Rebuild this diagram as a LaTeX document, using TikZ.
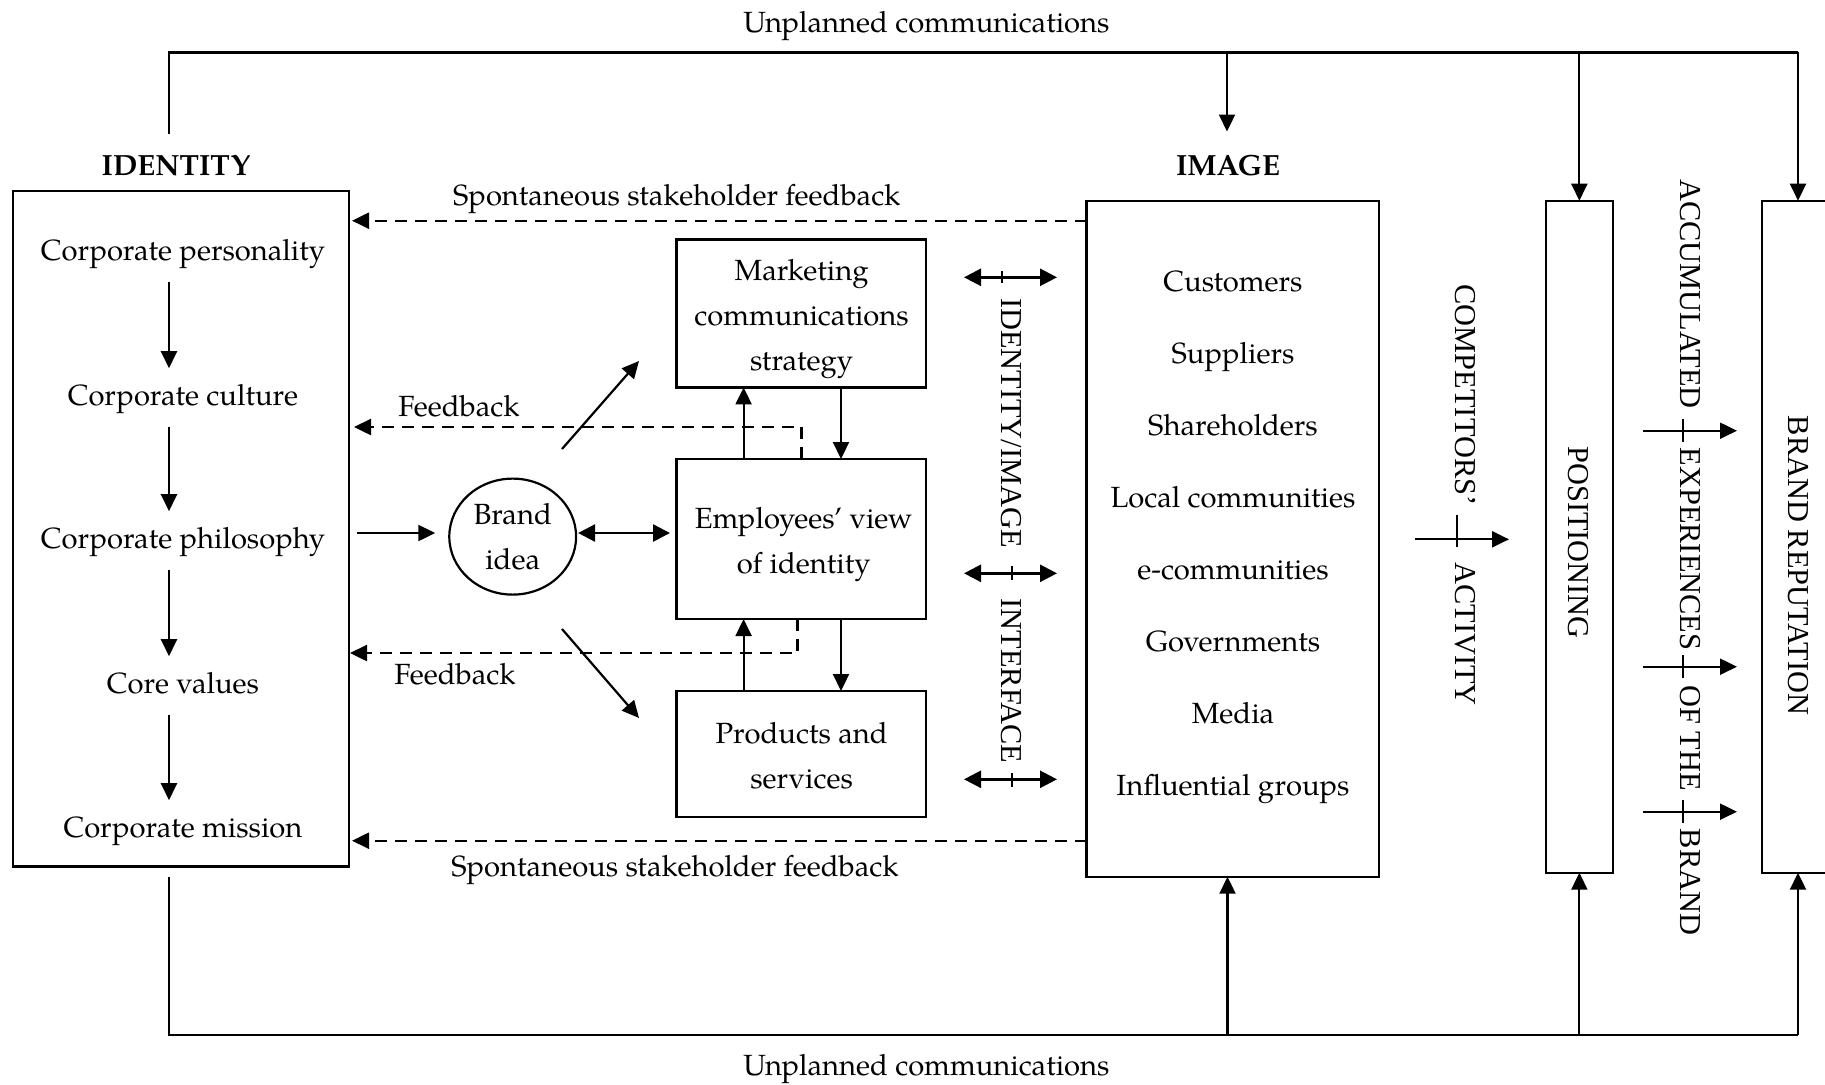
\documentclass[tikz,border=0pt]{standalone}
\usepackage{fontspec}
\setmainfont{texgyrepagella}[Extension=.otf, UprightFont=*-regular, BoldFont=*-bold, ItalicFont=*-italic, BoldItalicFont=*-bolditalic]
\newfontfamily\tms{Liberation Serif}
\usetikzlibrary{arrows.meta, shapes.geometric}
\begin{document}
\begin{tikzpicture}[x=0.5pt,y=-0.5pt,
  ln/.style={line width=1.1pt},
  arr/.style={line width=1.1pt,-{Triangle[length=8.5pt,width=8pt]}},
  dblarr/.style={line width=1.3pt,{Triangle[length=8.5pt,width=8.5pt]}-{Triangle[length=8.5pt,width=8.5pt]}},
  dsh/.style={line width=1.2pt,dash pattern=on 6pt off 4pt,-{Triangle[length=8.5pt,width=8pt]}},
  box/.style={draw,line width=1.1pt,inner sep=0pt,outer sep=0pt},
  txt/.style={font=\fontsize{14.6}{22.5}\selectfont,inner sep=0pt,align=center},
  btxt/.style={txt,anchor=base},
  itm/.style={btxt,text height=10.7pt,text depth=3.9pt},
  vtxt/.style={font=\tms\fontsize{15.2}{18}\selectfont,inner sep=0pt,rotate=-90},
  tick/.style={line width=1.1pt}
  ]
\useasboundingbox (0,0) rectangle (1825,1084);
\clip (0,0) rectangle (1825,1084);

% ---------- boxes ----------
\node[box,minimum width=168.1pt,minimum height=337.9pt] (idbox) at (180.9,528.6) {};
\node[box,minimum width=124.75pt,minimum height=74pt] (mkt) at (801.25,313.4) {};
\node[box,minimum width=124.75pt,minimum height=80pt] (emp) at (801.25,539) {};
\node[box,minimum width=124.75pt,minimum height=63pt] (prod) at (801.25,754) {};
\node[box,minimum width=146.25pt,minimum height=338pt] (img) at (1232.75,538.7) {};
\node[box,minimum width=33.65pt,minimum height=336pt] (pos) at (1579.35,536.7) {};
\node[box,minimum width=36.3pt,minimum height=336pt] (rep) at (1798,536.7) {};
\node[box,ellipse,minimum width=63.4pt,minimum height=58pt,txt] (bidea) at (512.7,536.6) {Brand\\idea};

% ---------- texts ----------
\node[btxt] (unpT) at (926.5,32) {Unplanned communications};
\node[btxt] (unpB) at (926.5,1075) {Unplanned communications};
\node[btxt,font=\fontsize{14.6}{22.5}\selectfont\bfseries] (idlab) at (176,175) {IDENTITY};
\node[btxt,font=\fontsize{14.6}{22.5}\selectfont\bfseries] (imlab) at (1228,175) {IMAGE};
\node[btxt] (spT) at (676.8,205) {Spontaneous stakeholder feedback};
\node[btxt] (spB) at (675,876) {Spontaneous stakeholder feedback};
\node[btxt] (fbT) at (459,416.4) {Feedback};
\node[btxt] (fbB) at (455,684) {Feedback};

\node[itm] (c1) at (183,260) {Corporate personality};
\node[itm] (c2) at (183,405) {Corporate culture};
\node[itm] (c3) at (183,548) {Corporate philosophy};
\node[itm] (c4) at (183,693) {Core values};
\node[itm] (c5) at (183,837) {Corporate mission};

\node[txt] (mktT) at (801.6,319) {Marketing\\communications\\strategy};
\node[txt] (empT) at (803.7,544.2) {Employees’ view\\of identity};
\node[txt] (prodT) at (801.6,755.7) {Products and\\services};

\node[btxt] (s1) at (1233,291.7) {Customers};
\node[btxt] (s2) at (1233,363.6) {Suppliers};
\node[btxt] (s3) at (1233,435.5) {Shareholders};
\node[btxt] (s4) at (1233,507.4) {Local communities};
\node[btxt] (s5) at (1233,579.3) {e-communities};
\node[btxt] (s6) at (1233,651.2) {Governments};
\node[btxt] (s7) at (1233,723.1) {Media};
\node[btxt] (s8) at (1233,795.0) {Influential groups};

\node[vtxt] (vi1) at (1011,423) {IDENTITY/IMAGE};
\node[vtxt] (vi2) at (1011,681) {INTERFACE};
\node[vtxt] (vc1) at (1465,395) {COMPETITORS’};
\node[vtxt] (vc2) at (1465,634) {ACTIVITY};
\node[vtxt] (vpos) at (1578,542.5) {POSITIONING};
\node[vtxt] (va1) at (1690,294) {ACCUMULATED};
\node[vtxt] (va2) at (1690,549) {EXPERIENCES};
\node[vtxt] (va3) at (1690,738) {OF THE};
\node[vtxt] (va4) at (1690,882) {BRAND};
\node[vtxt] (vrep) at (1798,565.5) {BRAND REPUTATION};

% ---------- coordinates ----------
\coordinate (ax) at (169,0);
\coordinate (idup) at (169,134);
\coordinate (topR) at (1798,52.4);
\coordinate (t1) at (1227,52.4);
\coordinate (imgtop) at (1227,131.5);
\coordinate (t2) at (1579.35,52.4);
\coordinate (iddn) at (169,877);
\coordinate (botR) at (1798,1035);
\coordinate (b1) at (1227.5,1035);
\coordinate (b2) at (1579.35,1035);
\coordinate (ys1) at (0,220.7);
\coordinate (ys2) at (0,840.7);
\coordinate (yf1) at (0,427);
\coordinate (yf2) at (0,653);
\coordinate (xf1) at (801.6,0);
\coordinate (xf2) at (797.5,0);
\coordinate (yb) at (0,533);
\coordinate (xa) at (743.6,0);
\coordinate (xb) at (841,0);
\coordinate (yi1) at (0,277.3);
\coordinate (yi2) at (0,573.3);
\coordinate (yi3) at (0,779.3);
\coordinate (yc) at (0,539.3);
\coordinate (ya1) at (0,430.7);
\coordinate (ya2) at (0,666.7);
\coordinate (ya3) at (0,811.7);
\coordinate (d1s) at (562,449);
\coordinate (d1e) at (639,361);
\coordinate (d2s) at (562,629);
\coordinate (d2e) at (639,718);

% ---------- unplanned communications ----------
\draw[ln] (idup) |- (topR);
\draw[arr] (t1) -- (imgtop);
\draw[arr] (t2) -- (pos.north);
\draw[arr] (topR) -- (rep.north);
\draw[ln] (iddn) |- (botR);
\draw[arr] (b1) -- (img.south -| b1);
\draw[arr] (b2) -- (pos.south);
\draw[arr] (botR) -- (rep.south);

% ---------- identity chain ----------
\foreach \a/\b in {c1/c2,c2/c3,c3/c4,c4/c5}
  \draw[arr,shorten <=7pt,shorten >=7.5pt] (\a.south -| ax) -- (\b.north -| ax);

% ---------- feedback ----------
\draw[dsh,shorten >=1.5pt] (img.west |- ys1) -- (idbox.east |- ys1);
\draw[dsh,shorten >=1.5pt] (img.west |- ys2) -- (idbox.east |- ys2);
\draw[dsh,shorten >=2.5pt] (emp.north -| xf1) |- (idbox.east |- yf1);
\draw[dsh,shorten >=0.5pt] (emp.south -| xf2) |- (idbox.east |- yf2);

% ---------- brand idea ----------
\draw[arr,shorten <=4pt,shorten >=7pt] (idbox.east |- yb) -- (bidea.west |- yb);
\draw[dblarr,shorten <=1pt,shorten >=3.25pt] (bidea.east |- yb) -- (emp.west |- yb);
\draw[arr] (d1s) -- (d1e);
\draw[arr] (d2s) -- (d2e);

% ---------- middle boxes ----------
\draw[arr] (emp.north -| xa) -- (mkt.south -| xa);
\draw[arr] (mkt.south -| xb) -- (emp.north -| xb);
\draw[arr] (prod.north -| xa) -- (emp.south -| xa);
\draw[arr] (emp.south -| xb) -- (prod.north -| xb);

% ---------- interface ----------
\draw[dblarr,shorten <=19pt,shorten >=14.75pt] (mkt.east |- yi1) -- (img.west |- yi1);
\draw[dblarr,shorten <=19pt,shorten >=14.75pt] (emp.east |- yi2) -- (img.west |- yi2);
\draw[dblarr,shorten <=19pt,shorten >=14.75pt] (prod.east |- yi3) -- (img.west |- yi3);
\draw[tick] (1002,271) -- (1002,283);
\draw[tick] (1012,566) -- (1012,580);
\draw[tick] (1012,773) -- (1012,787);

% ---------- competitors ----------
\draw[arr,shorten <=18pt,shorten >=18.35pt] (img.east |- yc) -- (pos.west |- yc);
\draw[tick] (1457,515) -- (1457,547);

% ---------- accumulated experiences ----------
\draw[arr,shorten <=15pt,shorten >=12.35pt] (pos.east |- ya1) -- (rep.west |- ya1);
\draw[arr,shorten <=15pt,shorten >=12.35pt] (pos.east |- ya2) -- (rep.west |- ya2);
\draw[arr,shorten <=15pt,shorten >=12.35pt] (pos.east |- ya3) -- (rep.west |- ya3);
\draw[tick] (1683,419) -- (1683,442);
\draw[tick] (1683,655) -- (1683,678);
\draw[tick] (1683,800) -- (1683,823);
\end{tikzpicture}
\end{document}
